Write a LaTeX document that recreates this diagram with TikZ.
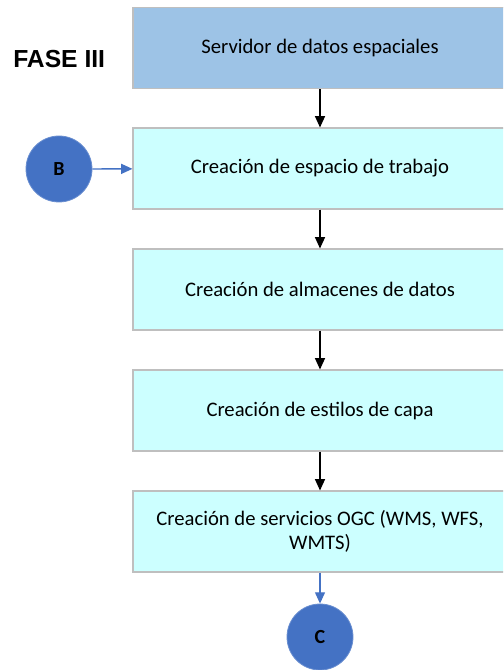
\documentclass[tikz,border=0pt]{standalone}
\usepackage{fontspec}
\setmainfont{Carlito}
\newfontfamily\arialfont{Liberation Sans}
\usetikzlibrary{arrows.meta}
\definecolor{hdrfill}{HTML}{9DC3E6}
\definecolor{boxfill}{HTML}{CCFFFF}
\definecolor{boxline}{HTML}{BFBFBF}
\definecolor{circfill}{HTML}{4472C4}
\tikzset{
  stepbox/.style={draw=boxline, line width=0.8pt, fill=boxfill, minimum width=280.5pt, minimum height=60.75pt, inner sep=0pt, align=center, font=\fontsize{15.5}{18}\selectfont},
  hdrbox/.style={stepbox, fill=hdrfill},
  conn/.style={draw=circfill!80!white, line width=0.6pt, fill=circfill, minimum size=49.5pt, inner sep=0pt, font=\bfseries\fontsize{15}{17}\selectfont},
  blackarrow/.style={-{Triangle[width=7.5pt,length=8.5pt]}, line width=1pt, black},
  bluearrow/.style={-{Triangle[width=7.5pt,length=8.5pt]}, line width=1pt, circfill}
}
\begin{document}
\begin{tikzpicture}[x=0.75pt, y=-0.75pt]
\useasboundingbox (0,0) rectangle (503,670);
\clip (0,0) rectangle (503,670);
\node[hdrbox] (s1) at (320,48) {Servidor de datos espaciales};
\node[stepbox] (s2) at (320,168.5) {Creación de espacio de trabajo};
\node[stepbox] (s3) at (320,289.5) {Creación de almacenes de datos};
\node[stepbox] (s4) at (320,410.5) {Creación de estilos de capa};
\node[stepbox] (s5) at (320,531.5) {Creación de servicios OGC (WMS, WFS,\\WMTS)};
\node[font=\arialfont\bfseries\fontsize{18.5}{20}\selectfont, anchor=west, inner sep=0pt] (fase) at (13,59) {FASE III};
\node[circle, conn] (b) at (59,169) {B};
\node[circle, conn] (c) at (320,637) {C};
\draw[blackarrow] (s1) -- (s2);
\draw[blackarrow] (s2) -- (s3);
\draw[blackarrow] (s3) -- (s4);
\draw[blackarrow] (s4) -- (s5);
\draw[bluearrow] (b) -- (s2);
\draw[bluearrow] (s5) -- (c);
\end{tikzpicture}
\end{document}
